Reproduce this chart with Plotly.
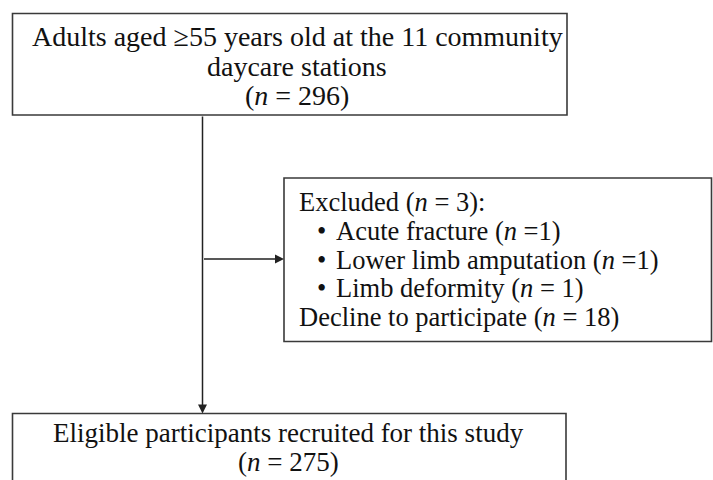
import plotly.graph_objects as go

# Flowchart content
top_lines = ["Adults aged ≥55 years old at the 11 community", "daycare stations", "(<i>n</i> = 296)"]
excl_head = "Excluded (<i>n</i> = 3):"
excl_items = ["Acute fracture (<i>n</i> =1)",
              "Lower limb amputation (<i>n</i> =1)",
              "Limb deformity (<i>n</i> = 1)"]
excl_tail = "Decline to participate (<i>n</i> = 18)"
bottom_lines = ["Eligible participants recruited for this study", "(<i>n</i> = 275)"]

# box geometry (x0, y0, x1, y1) in page pixels
top_box = (12.5, 13.5, 567, 115)
excl_box = (284, 178, 711.5, 341.5)
bot_box = (12.5, 413.5, 566, 490)
stem_x = 202.5
branch_y = 259

FONT = "Liberation Serif"
LINE_COLOR = "#3a3a3a"
TXT = "#111"

fig = go.Figure()
shapes = []
for b in (top_box, excl_box, bot_box):
    shapes.append(dict(type="rect", x0=b[0], y0=b[1], x1=b[2], y1=b[3],
                       xref="x", yref="y", line=dict(color=LINE_COLOR, width=1.6),
                       fillcolor="rgba(0,0,0,0)"))

annotations = []
annotations.append(dict(x=stem_x, y=bot_box[1], ax=stem_x, ay=top_box[3],
                        xref="x", yref="y", axref="x", ayref="y", text="",
                        showarrow=True, arrowhead=2, arrowsize=1.2, arrowwidth=1.5,
                        arrowcolor="#222"))
annotations.append(dict(x=excl_box[0], y=branch_y, ax=stem_x, ay=branch_y,
                        xref="x", yref="y", axref="x", ayref="y", text="",
                        showarrow=True, arrowhead=2, arrowsize=1.2, arrowwidth=1.5,
                        arrowcolor="#222"))


def txt(x, y, t, size, anchor="center"):
    annotations.append(dict(x=x, y=y, xref="x", yref="y", text=t, showarrow=False,
                            xanchor=anchor, yanchor="middle",
                            font=dict(family=FONT, size=size, color=TXT)))


for t, y in zip(top_lines, [36, 66, 95]):
    txt(297, y, t, 28)

ES = 26.5
txt(297, 202, excl_head, ES, "left")
for t, y in zip(excl_items, [231, 260, 288]):
    txt(315, y, "•", ES, "left")
    txt(334, y, t, ES, "left")
txt(297, 317, excl_tail, ES, "left")

for t, y in zip(bottom_lines, [432.5, 461.5]):
    txt(288, y, t, 27)

fig.update_layout(
    width=713, height=480,
    margin=dict(l=0, r=0, t=0, b=0),
    paper_bgcolor="white", plot_bgcolor="white",
    xaxis=dict(range=[0, 713], visible=False, fixedrange=True),
    yaxis=dict(range=[480, 0], visible=False, fixedrange=True),
    shapes=shapes, annotations=annotations, showlegend=False,
)
fig.write_html(
    "out.html",
    config={"displayModeBar": False},
    post_script="document.body.style.margin='0';document.body.style.overflow='hidden';",
)
